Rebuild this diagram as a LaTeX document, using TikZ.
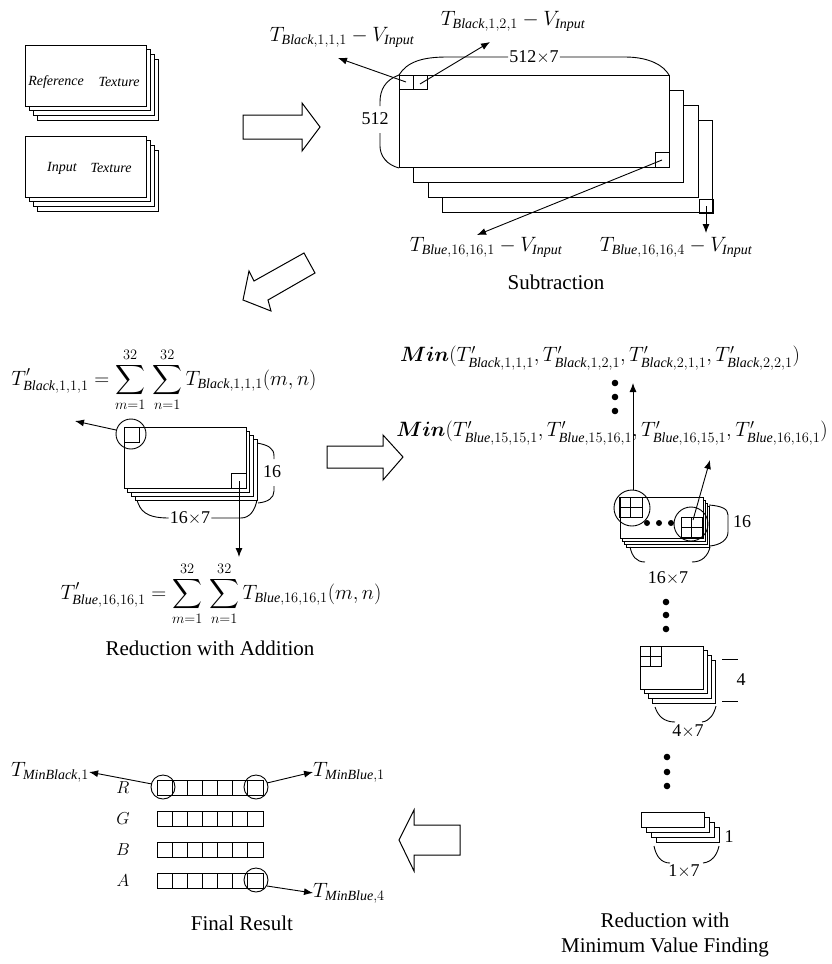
\documentclass[tikz,border=0pt]{standalone}
\usepackage{amsmath}
\usepackage{fontspec}
\setmainfont{Liberation Serif}
\usetikzlibrary{arrows.meta,calc}
\newcommand\layerstack[7]{%
  \foreach \i in {#7,...,1}{\draw[ln,fill=white] ({#1+\i*#5},{#2+\i*#6}) rectangle ({#3+\i*#5},{#4+\i*#6});}%
  \draw[ln,fill=white] (#1,#2) rectangle (#3,#4);}
\newcommand\gridtwo[4]{%
  \draw[ln] (#1,#2) rectangle (#3,#4);
  \draw[ln] ({(#1+#3)/2},#2) -- ({(#1+#3)/2},#4);
  \draw[ln] (#1,{(#2+#4)/2}) -- (#3,{(#2+#4)/2});}
\tikzset{
  ln/.style={line width=0.9pt},
  arr/.style={line width=0.9pt,-{Latex[length=9pt,width=7pt]}},
  lbl/.style={inner sep=0pt,font=\fontsize{20}{24}\selectfont},
  captxt/.style={inner sep=0pt,font=\fontsize{21}{25}\selectfont,align=center},
  dim/.style={inner sep=1pt,font=\fontsize{18}{20}\selectfont},
  smalltxt/.style={inner sep=0pt,font=\fontsize{14}{16}\selectfont\itshape},
  rowl/.style={inner sep=0pt,font=\fontsize{19}{22}\selectfont},
  blk/.style={draw,line width=1pt,fill=white,line join=miter},
  dotfill/.style={fill=black},
}
\begin{document}
\begin{tikzpicture}[x=1pt,y=-1pt]
\useasboundingbox (0,0) rectangle (832,964);
% ---------- input textures ----------
\layerstack{25}{45}{146}{106}{4.3}{4.7}{3}
\node[smalltxt] (ref1) at (56,82) {Reference};
\node[smalltxt] (ref2) at (119,82) {Texture};
\layerstack{25}{136}{146}{197}{4.3}{4.7}{3}
\node[smalltxt] (inp1) at (62,168) {Input};
\node[smalltxt] (inp2) at (111,168) {Texture};
% block arrow right (top)
\draw[blk] (243,115) -- (302,115) -- (302,103) -- (320,127) -- (302,151) -- (302,139) -- (243,139) -- cycle;
% ---------- subtraction stack ----------
\layerstack{399}{75}{669}{167}{14.5}{15.3}{3}
\draw[ln] (399,75) rectangle (413,89);
\draw[ln] (413,75) rectangle (427,89);
\draw[ln] (655,152) rectangle (669,167);
\draw[ln] (699,199) rectangle (713,213);
\coordinate (s1) at (406,82);
\coordinate (s2) at (420,84);
\coordinate (s3) at (662,160);
\coordinate (s4) at (706,206);
\node[lbl] (lb1) at (342,37) {$T_{\mathit{Black},1,1,1}-V_{\mathit{Input}}$};
\node[lbl] (lb2) at (513,21) {$T_{\mathit{Black},1,2,1}-V_{\mathit{Input}}$};
\node[lbl] (lb3) at (486,247) {$T_{\mathit{Blue},16,16,1}-V_{\mathit{Input}}$};
\node[lbl] (lb4) at (676,247) {$T_{\mathit{Blue},16,16,4}-V_{\mathit{Input}}$};
\coordinate (e1) at (338,58);
\coordinate (e2) at (490,42);
\coordinate (e3) at (477,235);
\coordinate (e4) at (706,233);
\draw[arr] (s1) -- (e1);
\draw[arr] (s2) -- (e2);
\draw[arr] (s3) -- (e3);
\draw[arr] (s4) -- (e4);
% braces
\node[dim] (d512x7) at (534,57) {512$\times$7};
\draw[ln] (399,75) .. controls (407,62) and (422,57) .. (447,57) -- (d512x7.west);
\draw[ln] (d512x7.east) -- (625,57) .. controls (650,57) and (664,66) .. (669,75);
\node[dim] (d512) at (375,119) {512};
\draw[ln] (399,75) .. controls (385,80) and (380,90) .. (380,102) -- (380,106);
\draw[ln] (380,133) -- (380,146) .. controls (380,156) and (387,165) .. (399,168);
\node[captxt] (cap1) at (556,282) {Subtraction};
% diagonal block arrow
\draw[blk] (304,253) -- (315,273) -- (268,300) -- (271,311) -- (243,300) -- (249,271) -- (254,281) -- cycle;
% ---------- reduction with addition ----------
\node[lbl] (f1) at (164,380) {$\displaystyle T'_{\mathit{Black},1,1,1}=\sum_{m=1}^{32}\,\sum_{n=1}^{32}T_{\mathit{Black},1,1,1}(m,n)$};
\layerstack{124}{427}{246}{488}{3.7}{4}{3}
\draw[ln] (124,427) rectangle (139,442);
\draw[ln] (231,473) rectangle (246,488);
\draw[ln] (131,434) circle (15);
\coordinate (c1l) at (116,430);
\coordinate (e5) at (75,421);
\draw[arr] (c1l) -- (e5);
\coordinate (s5) at (239,481);
\coordinate (e6) at (239,557);
\draw[arr] (s5) -- (e6);
\node[dim] (d16a) at (272,472) {16};
\draw[ln] (257,443) .. controls (268,445) and (274,448) .. (274,456) -- (274,459);
\draw[ln] (274,486) -- (274,491) .. controls (274,498) and (268,502) .. (258,503);
\node[dim] (d16x7a) at (190,518) {16$\times$7};
\draw[ln] (137,500) .. controls (140,510) and (145,518) .. (d16x7a.west);
\draw[ln] (d16x7a.east) -- (241,518) .. controls (250,518) and (255,510) .. (257,500);
\node[lbl] (f2) at (221,594) {$\displaystyle T'_{\mathit{Blue},16,16,1}=\sum_{m=1}^{32}\,\sum_{n=1}^{32}T_{\mathit{Blue},16,16,1}(m,n)$};
\node[captxt] (cap2) at (210,648) {Reduction with Addition};
% block arrow middle
\draw[blk] (327,446) -- (383,446) -- (383,435) -- (403,457) -- (383,480) -- (383,468) -- (327,468) -- cycle;
% ---------- min finding ----------
\node[lbl] (m1) at (600,358) {$\boldsymbol{Min}(T'_{\mathit{Black},1,1,1},T'_{\mathit{Black},1,2,1},T'_{\mathit{Black},2,1,1},T'_{\mathit{Black},2,2,1})$};
\node[lbl] (m2) at (612,433) {$\boldsymbol{Min}(T'_{\mathit{Blue},15,15,1},T'_{\mathit{Blue},15,16,1},T'_{\mathit{Blue},16,15,1},T'_{\mathit{Blue},16,16,1})$};
\foreach \yy in {383,397,411} \fill[dotfill] (615,\yy) circle (3.3);
\layerstack{620}{497}{703}{538}{2.2}{3}{3}
\gridtwo{619}{497}{642}{517}
\gridtwo{681}{517}{702}{537}
\draw[ln] (632,508) circle (18);
\draw[ln] (691,524) circle (17);
\foreach \xx in {647,659,671} \fill[dotfill] (\xx,523) circle (3);
\coordinate (g1) at (633,490);
\coordinate (e7) at (633,383);
\draw[arr] (g1) -- (e7);
\coordinate (g2) at (693,520);
\coordinate (e8) at (710,460);
\draw[arr] (g2) -- (e8);
\draw[ln] (709,505) .. controls (722,506) and (728,509) .. (728,515) -- (728,532) .. controls (728,540) and (720,545) .. (710,546);
\node[dim] (d16b) at (742,522) {16};
\draw[ln] (630,547) .. controls (632,556) and (636,562) .. (645,562);
\draw[ln] (692,562) .. controls (702,562) and (708,556) .. (710,547);
\node[dim] (d16x7b) at (668,578) {16$\times$7};
\foreach \yy in {602,615,629} \fill[dotfill] (666,\yy) circle (3.3);
% 4x7
\layerstack{640}{646}{703}{689}{4.3}{4.7}{3}
\gridtwo{640}{646}{661}{666}
\draw[ln] (722,659) -- (738,659);
\draw[ln] (722,701) -- (738,701);
\node[dim] (d4) at (741,680) {4};
\draw[ln] (655,707) .. controls (658,716) and (664,722) .. (675,722);
\draw[ln] (702,722) .. controls (710,721) and (714,714) .. (716,706);
\node[dim] (d4x7) at (688,731) {4$\times$7};
\foreach \yy in {757,772,786} \fill[dotfill] (667,\yy) circle (3.3);
% 1x7
\layerstack{641}{812}{704}{827}{5.3}{5}{3}
\node[dim] (d1) at (729,837) {1};
\draw[ln] (654,846) .. controls (656,856) and (661,863) .. (670,863);
\draw[ln] (703,863) .. controls (712,862) and (717,855) .. (719,846);
\node[dim] (d1x7) at (684,871) {1$\times$7};
\node[captxt] (cap4) at (665,935) {Reduction with\\Minimum Value Finding};
% block arrow left
\draw[blk] (460,825) -- (414,825) -- (414,810) -- (399,840) -- (414,871) -- (414,855) -- (460,855) -- cycle;
% ---------- final result ----------
\foreach \nm/\yy in {R/780,G/811,B/842,A/873}{
  \draw[ln] (157,\yy) rectangle (263,{\yy+15});
  \foreach \k in {1,...,6} \draw[ln] ({157+\k*15.14},\yy) -- ({157+\k*15.14},{\yy+15});
  \node[rowl] (row\nm) at (123,{\yy+8}) {$\nm$};
}
\draw[ln] (163,787) circle (12);
\draw[ln] (256,787) circle (12);
\draw[ln] (256,880) circle (12);
\coordinate (r1) at (152,784);
\coordinate (r7) at (267,783);
\coordinate (a7) at (267,886);
\node[lbl] (tmb) at (50,772) {$T_{\mathit{MinBlack},1}$};
\node[lbl] (tmu1) at (349,772) {$T_{\mathit{MinBlue},1}$};
\node[lbl] (tmu4) at (349,893) {$T_{\mathit{MinBlue},4}$};
\draw[arr] (r1) -- (tmb.east);
\draw[arr] (r7) -- (tmu1.west);
\draw[arr] (a7) -- (tmu4.west);
\node[captxt] (cap3) at (242,923) {Final Result};
\end{tikzpicture}
\end{document}
